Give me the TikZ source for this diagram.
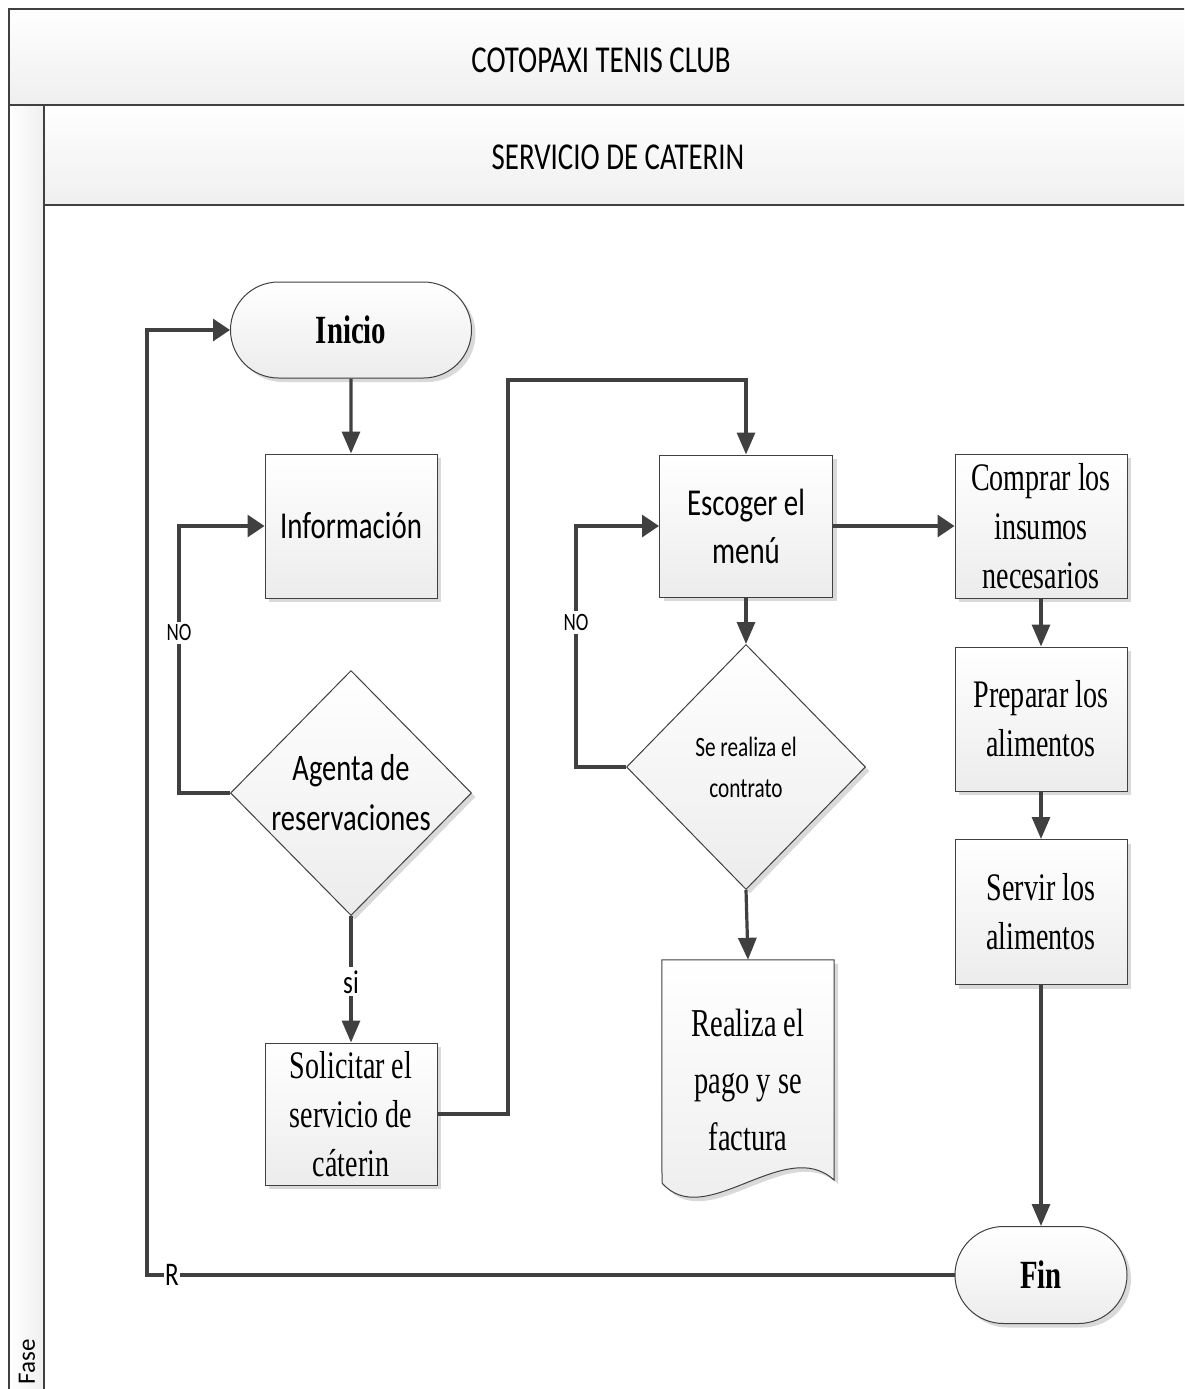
\documentclass[tikz,border=0pt]{standalone}
\usepackage{fontspec}
\usetikzlibrary{shapes.geometric,shapes.misc,arrows.meta,shadows}
\newfontfamily\procfont{Liberation Serif}[FakeStretch=0.72]
\newfontfamily\labfont{Carlito}[FakeStretch=0.76]
\newfontfamily\phasefont{Carlito}

\definecolor{edge}{HTML}{404040}
\definecolor{shadowgray}{HTML}{D9D9D9}
\definecolor{fillbottom}{HTML}{ECECEC}
\definecolor{bandbottom}{HTML}{EFEFEF}

\tikzset{
  box/.style={draw=edge, line width=1pt, top color=white, bottom color=fillbottom,
    drop shadow={shadow xshift=4pt, shadow yshift=-4pt, fill=shadowgray, opacity=1},
    align=center, inner sep=0pt},
  procbox/.style={box, rectangle, minimum width=172pt, minimum height=143pt,
    font=\procfont\fontsize{39}{49}\selectfont},
  termbox/.style={box, rounded rectangle, minimum width=172pt, minimum height=97pt,
    font=\procfont\bfseries\fontsize{40}{48}\selectfont},
  decbox/.style={box, diamond, aspect=1, minimum width=241pt, minimum height=245pt},
  sansbox/.style={box, rectangle, minimum width=172pt, minimum height=143pt,
    font=\labfont\fontsize{38}{48}\selectfont},
  % vertical runs end in a tall head, horizontal runs in a short wide one
  flow/.style={draw=edge, line width=3.2pt, -{Triangle[length=22pt,width=18pt]}},
  hflow/.style={draw=edge, line width=3.2pt, -{Triangle[length=17pt,width=22pt]}},
  lbl/.style={fill=white, inner sep=3pt, font=\labfont\fontsize{25}{28}\selectfont},
  bandtext/.style={font=\labfont\fontsize{38}{44}\selectfont},
}

\begin{document}
\begin{tikzpicture}[x=1pt,y=-1pt]
\useasboundingbox (0,0) rectangle (1184,1389);
\clip (0,0) rectangle (1184,1389);

% pool and lane headers
\path[top color=white, bottom color=bandbottom] (9,9) rectangle (1200,105);
\path[top color=white, bottom color=bandbottom] (44,105) rectangle (1200,205);
\path[left color=white, right color=bandbottom] (9,105) rectangle (44,1400);
\draw[edge, line width=1.5pt] (9,1400) -- (9,9);
\draw[edge, line width=2.5pt] (8,9) -- (1200,9);
\draw[edge, line width=2.5pt] (9,105) -- (1200,105);
\draw[edge, line width=2.5pt] (44,205) -- (1200,205);
\draw[edge, line width=2.5pt] (44,105) -- (44,1400);

\node[bandtext] (pool) at (601,60) {COTOPAXI TENIS CLUB};
\node[bandtext] (lane) at (618,157) {SERVICIO DE CATERIN};
\node[font=\phasefont\fontsize{25}{28}\selectfont, rotate=90] (phase) at (27,1362) {Fase};

% flow nodes
\node[termbox, minimum width=241pt, minimum height=96pt] (inicio) at (351,330) {Inicio};
\node[sansbox, minimum height=144pt] (info) at (351,526) {Información};
\node[decbox, font=\labfont\fontsize{37.5}{50}\selectfont] (agenta) at (351,793) {Agenta de\\reservaciones};
\node[procbox, minimum height=142pt] (solicitar) at (351,1114) {Solicitar el\\servicio de\\cáterin};

\node[sansbox, minimum width=173pt, minimum height=142pt] (escoger) at (746,526) {Escoger el\\menú};
\node[decbox, minimum width=239pt, font=\labfont\fontsize{28}{41}\selectfont] (contrato) at (746,767) {Se realiza el\\contrato};

% document shape with wavy bottom
\node[rectangle, inner sep=0pt, minimum width=172pt, minimum height=240pt, align=center,
  font=\procfont\fontsize{39}{57}\selectfont] (pago) at (748,1080) {};
\path[draw=edge, line width=1pt, top color=white, bottom color=fillbottom,
  drop shadow={shadow xshift=4pt, shadow yshift=-4pt, fill=shadowgray, opacity=1}]
  (pago.north west) -- (pago.north east) -- (834,1180)
  .. controls (785,1135) and (705,1232) .. (662,1183) -- cycle;
\node[align=center, inner sep=0pt, font=\procfont\fontsize{39.5}{57}\selectfont] (pagotext) at (pago.center) {Realiza el\\pago y se\\factura};

\node[procbox, minimum height=144pt] (comprar) at (1041,526) {Comprar los\\insumos\\necesarios};
\node[procbox, minimum height=144pt] (preparar) at (1041,719) {Preparar los\\alimentos};
\node[procbox, minimum height=145pt] (servir) at (1041,912) {Servir los\\alimentos};
\node[termbox] (fin) at (1041,1275) {Fin};

% corner points of the routed connectors
\coordinate (noA1) at (179,793);
\coordinate (noA2) at (179,526);
\coordinate (upS1) at (508,1114);
\coordinate (upS2) at (508,380);
\coordinate (upS3) at (746,380);
\coordinate (noB1) at (576,767);
\coordinate (noB2) at (576,526);
\coordinate (ret1) at (147,1275);
\coordinate (ret2) at (147,330);

% connectors
\draw[flow] (inicio) -- (info);
\draw[hflow] (agenta.west) -- (noA1) -- node[lbl, pos=0.6] {NO} (noA2) -- (info.west);
\draw[flow] (agenta.south) -- node[lbl, pos=0.52, font=\labfont\fontsize{33}{36}\selectfont] {si} (solicitar.north);
\draw[flow] (solicitar.east) -- (upS1) -- (upS2) -- (upS3) -- (escoger.north);
\draw[hflow] (escoger.east) -- (comprar.west);
\draw[flow] (escoger.south) -- (contrato.north);
\draw[hflow] (contrato.west) -- (noB1) -- node[lbl, pos=0.6] {NO} (noB2) -- (escoger.west);
\draw[flow] (contrato.south) -- (pago.north);
\draw[flow] (comprar.south) -- (preparar.north);
\draw[flow] (preparar.south) -- (servir.north);
\draw[flow] (servir.south) -- (fin.north);
\draw[hflow] (fin.west) -- node[lbl, pos=0.969, inner sep=1pt, font=\labfont\fontsize{33}{36}\selectfont] {R} (ret1) -- (ret2) -- (inicio.west);
\end{tikzpicture}
\end{document}
